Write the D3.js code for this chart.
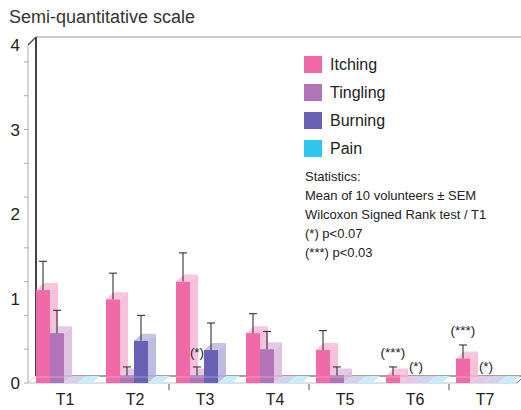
<!DOCTYPE html>
<html>
<head>
<meta charset="utf-8">
<script src="https://cdn.jsdelivr.net/npm/d3@7"></script>
<style>
  body { margin: 0; background: #fff; }
  text { font-family: "Liberation Sans", Arial, sans-serif; fill: #222; }
</style>
</head>
<body>
<div id="chart"></div>
<script>
// data
const groups = ["T1", "T2", "T3", "T4", "T5", "T6", "T7"];
const series = ["Itching", "Tingling", "Burning", "Pain"];
const itching  = [1.10, 0.99, 1.20, 0.59, 0.39, 0.09, 0.29];
const tingling = [0.59, 0.09, 0.09, 0.40, 0.09, 0, 0];
const burning  = [0, 0.50, 0.39, 0, 0, 0, 0];
const pain     = [0, 0, 0, 0, 0, 0, 0];
// upper SEM (0 = no error bar)
const itchingErr  = [0.34, 0.31, 0.34, 0.23, 0.23, 0.10, 0.16];
const tinglingErr = [0.27, 0.10, 0.10, 0.21, 0.10, 0, 0];
const burningErr  = [0, 0.30, 0.32, 0, 0, 0, 0];
const painErr     = [0, 0, 0, 0, 0, 0, 0];
const yLabels = [0, 1, 2, 3, 4];
const yMinorTicks = [0.4, 0.8, 1.2, 1.6, 2.2, 2.6, 3, 3.4, 3.8];
const annotations = [
  {group: "T3", serie: "Tingling", label: "(*)"},
  {group: "T6", serie: "Itching", label: "(***)"},
  {group: "T6", serie: "Tingling", label: "(*)"},
  {group: "T7", serie: "Itching", label: "(***)"},
  {group: "T7", serie: "Tingling", label: "(*)"}
];
const statsLines = [
  "Statistics:",
  "Mean of 10 volunteers \u00b1 SEM",
  "Wilcoxon Signed Rank test / T1",
  "(*) p<0.07",
  "(***) p<0.03"
];

const values = [itching, tingling, burning, pain];
const errors = [itchingErr, tinglingErr, burningErr, painErr];
const colors = ["#ef6aa7", "#b274b8", "#6a60b4", "#2fc6ef"];
const zeroTints = ["#f7c9de", "#e4c9e7", "#d3d2ef", "#c9edf9"];

const width = 521, height = 410;
const dx = 8, dy = 7;   // depth offset of the 3D boxes

const svg = d3.select("#chart")
  .append("svg")
  .attr("width", width)
  .attr("height", height);

const y = d3.scaleLinear().domain([0, 4]).range([383, 45]);
const x = d3.scaleBand().domain(groups).range([36, 36 + 70 * groups.length]);
const xs = d3.scaleBand().domain(series).range([0, 56]);
const bw = xs.bandwidth();

// title
svg.append("text")
  .attr("x", 9).attr("y", 23)
  .style("font-size", "18px")
  .style("fill", "#333")
  .text("Semi-quantitative scale");

// back wall + top frame
svg.append("line")
  .attr("x1", 36).attr("x2", width).attr("y1", y(4) - dy - 1).attr("y2", y(4) - dy - 1)
  .attr("stroke", "#999").attr("stroke-width", 1);
svg.append("line")
  .attr("x1", 36).attr("x2", 36).attr("y1", y(4) - dy - 1).attr("y2", y(0) - dy)
  .attr("stroke", "#444").attr("stroke-width", 2);

// front y axis
svg.append("path")
  .attr("d", `M36,${y(4) - dy - 1} L28,${y(4)} L28,${y(0)} L36,${y(0) - dy}`)
  .attr("fill", "none").attr("stroke", "#aaa").attr("stroke-width", 1);
svg.append("path")
  .attr("d", `M36,${y(4) - dy - 1} L28,${y(4)}`)
  .attr("fill", "none").attr("stroke", "#444").attr("stroke-width", 1.2);
svg.selectAll(".ytick")
  .data(yMinorTicks.concat([0, 3]))
  .join("line")
  .attr("x1", 24).attr("x2", 28)
  .attr("y1", d => y(d)).attr("y2", d => y(d))
  .attr("stroke", "#aaa");
svg.selectAll(".ylab")
  .data(yLabels)
  .join("text")
  .attr("x", 20).attr("y", d => y(d))
  .attr("dy", "0.36em")
  .attr("text-anchor", "end")
  .style("font-size", "17px")
  .text(d => d);

// floor
svg.append("polygon")
  .attr("points", `28,${y(0)} 36,${y(0) - dy} ${width},${y(0) - dy} ${width - 4},${y(0)}`)
  .attr("fill", "#fff");
svg.append("line")
  .attr("x1", 36).attr("x2", width).attr("y1", y(0) - dy).attr("y2", y(0) - dy)
  .attr("stroke", "#444").attr("stroke-width", 1.2);
svg.append("line")
  .attr("x1", 28).attr("x2", 517).attr("y1", y(0)).attr("y2", y(0))
  .attr("stroke", "#b8c6cf").attr("stroke-width", 1);
svg.append("line")
  .attr("x1", 517).attr("x2", 521).attr("y1", y(0)).attr("y2", y(0) - 4)
  .attr("stroke", "#777").attr("stroke-width", 1);

// bars, drawn left to right so each box covers the side of the previous one
const bars = [];
groups.forEach((g, gi) => {
  series.forEach((s, si) => {
    bars.push({group: g, serie: s, si: si, v: values[si][gi], e: errors[si][gi]});
  });
});

const barG = svg.append("g");
bars.forEach(d => {
  const x0 = x(d.group) + xs(d.serie);
  const y0 = y(0), y1 = y(d.v);
  const light = d3.interpolateRgb(colors[d.si], "#fff")(0.5);
  if (d.v === 0) {
    barG.append("polygon")
      .attr("points", `${x0},${y0} ${x0 + dx},${y0 - dy} ${x0 + bw + dx},${y0 - dy} ${x0 + bw},${y0}`)
      .attr("fill", zeroTints[d.si]);
    return;
  }
  barG.append("polygon")
    .attr("points", `${x0 + bw},${y0} ${x0 + bw + dx},${y0 - dy} ${x0 + bw + dx},${y1 - dy} ${x0 + bw},${y1}`)
    .attr("fill", light).attr("opacity", 0.85);
  barG.append("polygon")
    .attr("points", `${x0},${y1} ${x0 + dx},${y1 - dy} ${x0 + bw + dx},${y1 - dy} ${x0 + bw},${y1}`)
    .attr("fill", d3.interpolateRgb(colors[d.si], "#fff")(0.62));
  barG.append("rect")
    .attr("x", x0).attr("y", y1)
    .attr("width", bw).attr("height", y0 - y1)
    .attr("fill", colors[d.si]);
  // faint floor line seen through the box
  barG.append("line")
    .attr("x1", x0).attr("x2", x0 + bw).attr("y1", y0 - dy + 1).attr("y2", y0 - dy + 1)
    .attr("stroke", "#fff").attr("stroke-opacity", 0.35);
});

// error bars (upper half only)
const errG = svg.append("g").attr("stroke", "#333").attr("stroke-width", 1.1);
bars.filter(d => d.e > 0).forEach(d => {
  const cx = x(d.group) + xs(d.serie) + bw / 2;
  errG.append("line")
    .attr("x1", cx).attr("x2", cx).attr("y1", y(d.v)).attr("y2", y(d.v + d.e));
  errG.append("line")
    .attr("x1", cx - 4).attr("x2", cx + 4).attr("y1", y(d.v + d.e)).attr("y2", y(d.v + d.e));
});

// significance marks
svg.selectAll(".note")
  .data(annotations)
  .join("text")
  .attr("text-anchor", "middle")
  .style("font-size", "13.5px")
  .attr("x", a => {
    const si = series.indexOf(a.serie), gi = groups.indexOf(a.group);
    const cx = x(a.group) + xs(a.serie) + bw / 2;
    return errors[si][gi] > 0 ? cx : cx + dx + 1;
  })
  .attr("y", a => {
    const si = series.indexOf(a.serie), gi = groups.indexOf(a.group);
    const e = errors[si][gi];
    return e > 0 ? y(values[si][gi] + e) - 10 : y(0) - 12;
  })
  .text(a => a.label);

// x axis
svg.selectAll(".xtick")
  .data(groups.filter((g, i) => i % 2 === 0 && i > 0))
  .join("line")
  .attr("x1", g => x(g) - 7).attr("x2", g => x(g) - 7)
  .attr("y1", y(0) + 1).attr("y2", y(0) + 7)
  .attr("stroke", "#555");
svg.selectAll(".xlab")
  .data(groups)
  .join("text")
  .attr("x", g => x(g) + 29)
  .attr("y", 405)
  .attr("text-anchor", "middle")
  .style("font-size", "16px")
  .text(g => g);

// legend
const leg = svg.append("g");
series.forEach((s, i) => {
  leg.append("rect")
    .attr("x", 304).attr("y", 56 + 28 * i)
    .attr("width", 18).attr("height", 17)
    .attr("fill", colors[i]);
  leg.append("text")
    .attr("x", 330).attr("y", 70 + 28 * i)
    .style("font-size", "16px")
    .text(s);
});
leg.selectAll(".stat")
  .data(statsLines)
  .join("text")
  .attr("x", 305)
  .attr("y", (d, i) => 181 + 19 * i)
  .style("font-size", "13px")
  .text(d => d);
</script>
</body>
</html>
